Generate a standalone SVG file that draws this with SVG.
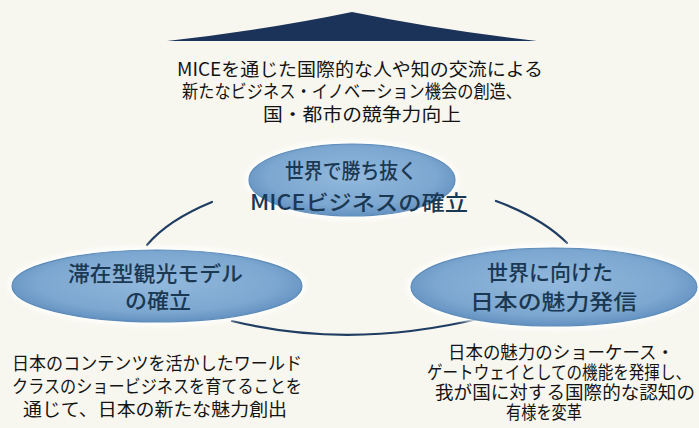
<svg xmlns="http://www.w3.org/2000/svg" width="699" height="428" viewBox="0 0 699 428">
<style>
.bg{fill:#f8f7ef}
.halo{fill:#ffffff;opacity:0.85}
.node{fill:url(#ng);stroke:#5d8cba;stroke-width:1.2}
.nt{font-family:"Noto Sans CJK JP","Noto Sans",sans-serif;font-size:21px;fill:#1b3853;font-weight:500}
.bt{font-family:"Noto Sans CJK JP","Noto Sans",sans-serif;font-size:18px;fill:#141414}
.conn{fill:none;stroke:#1f3d62;stroke-width:2.2;stroke-linecap:round}
</style>
<defs>
<radialGradient id="ng" cx="50%" cy="45%" r="55%">
<stop offset="0" stop-color="#93b9dd"/>
<stop offset="0.75" stop-color="#7ca7d0"/>
<stop offset="1" stop-color="#6391c0"/>
</radialGradient>
<filter id="blur" x="-10%" y="-20%" width="120%" height="140%"><feGaussianBlur stdDeviation="2"/></filter>
</defs>
<rect class="bg" x="0" y="0" width="699" height="428"/>
<g id="apex">
<path d="M167 41 Q265 30 352 12 Q440 30 537 41 Z" fill="#1b3358"/>
</g>
<g id="goal">
<text class="bt" x="177" y="76" textLength="366" lengthAdjust="spacingAndGlyphs">MICEを通じた国際的な人や知の交流による</text>
<text class="bt" x="182" y="98" textLength="340" lengthAdjust="spacingAndGlyphs">新たなビジネス・イノベーション機会の創造、</text>
<text class="bt" x="263" y="121" textLength="198" lengthAdjust="spacingAndGlyphs">国・都市の競争力向上</text>
</g>
<g id="connectors">
<path class="conn" d="M212 202 Q168 220 147 245"/>
<path class="conn" d="M496 201 Q542 218 567 243"/>
<path class="conn" d="M232 321 Q350 350 482 318"/>
</g>
<g id="node-mice">
<ellipse class="halo" cx="352" cy="180" rx="107" ry="40" filter="url(#blur)"/>
<ellipse class="node" cx="352" cy="180" rx="103" ry="36"/>
<text class="nt" x="285" y="178" textLength="132" lengthAdjust="spacingAndGlyphs">世界で勝ち抜く</text>
<text class="nt" x="250" y="210" textLength="218" lengthAdjust="spacingAndGlyphs">MICEビジネスの確立</text>
</g>
<g id="node-stay">
<ellipse class="halo" cx="157" cy="286" rx="149" ry="40" filter="url(#blur)"/>
<ellipse class="node" cx="157" cy="286" rx="145" ry="36"/>
<text class="nt" x="68" y="281" textLength="175" lengthAdjust="spacingAndGlyphs">滞在型観光モデル</text>
<text class="nt" x="125" y="308" textLength="66" lengthAdjust="spacingAndGlyphs">の確立</text>
</g>
<g id="node-send">
<ellipse class="halo" cx="554" cy="287" rx="147" ry="43" filter="url(#blur)"/>
<ellipse class="node" cx="554" cy="287" rx="143" ry="39"/>
<text class="nt" x="487" y="280" textLength="126" lengthAdjust="spacingAndGlyphs">世界に向けた</text>
<text class="nt" x="470" y="309" textLength="167" lengthAdjust="spacingAndGlyphs">日本の魅力発信</text>
</g>
<g id="desc-left">
<text class="bt" x="12" y="370" textLength="290" lengthAdjust="spacingAndGlyphs">日本のコンテンツを活かしたワールド</text>
<text class="bt" x="12" y="393" textLength="290" lengthAdjust="spacingAndGlyphs">クラスのショービジネスを育てることを</text>
<text class="bt" x="23" y="416" textLength="264" lengthAdjust="spacingAndGlyphs">通じて、日本の新たな魅力創出</text>
</g>
<g id="desc-right">
<text class="bt" x="448" y="359" textLength="226" lengthAdjust="spacingAndGlyphs">日本の魅力のショーケース・</text>
<text class="bt" transform="translate(427,379) scale(1,1.14)" x="0" y="0" style="font-size:15.8px" textLength="264" lengthAdjust="spacingAndGlyphs">ゲートウェイとしての機能を発揮し、</text>
<text class="bt" x="435" y="399" textLength="260" lengthAdjust="spacingAndGlyphs">我が国に対する国際的な認知の</text>
<text class="bt" x="506" y="419" textLength="76" lengthAdjust="spacingAndGlyphs">有様を変革</text>
</g>
</svg>
